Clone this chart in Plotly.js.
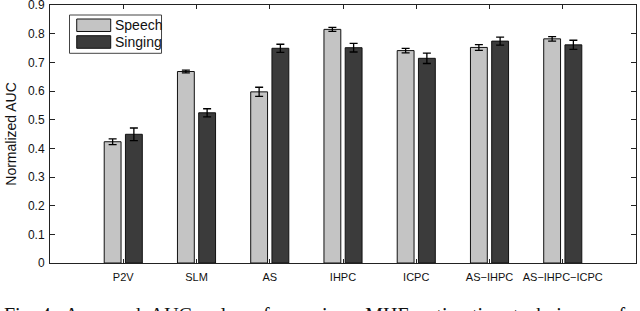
<!DOCTYPE html>
<html>
<head>
<meta charset="utf-8">
<script src="https://cdn.plot.ly/plotly-3.0.1.min.js"></script>
<style>
  html, body { margin: 0; padding: 0; background: #fff; }
  #chart { width: 640px; height: 311px; }
</style>
</head>
<body>
<div id="chart"></div>
<script>
const categories = ["P2V", "SLM", "AS", "IHPC", "ICPC", "AS\u2212IHPC", "AS\u2212IHPC\u2212ICPC"];
const seriesNames = ["Speech", "Singing"];
const speechValues = [0.423, 0.668, 0.597, 0.815, 0.741, 0.752, 0.782];
const speechErrors = [0.010, 0.005, 0.016, 0.007, 0.008, 0.010, 0.008];
const singingValues = [0.449, 0.524, 0.749, 0.751, 0.714, 0.774, 0.761];
const singingErrors = [0.022, 0.014, 0.014, 0.015, 0.018, 0.014, 0.016];
const yTickValues = [0, 0.1, 0.2, 0.3, 0.4, 0.5, 0.6, 0.7, 0.8, 0.9];
const yTickLabels = ["0", "0.1", "0.2", "0.3", "0.4", "0.5", "0.6", "0.7", "0.8", "0.9"];
const captionText = "Fig. 4.\u00a0 Averaged\u00a0 AUC\u00a0 values\u00a0 for\u00a0 various\u00a0 MHE\u00a0 estimation\u00a0 techniques\u00a0 of";

const speechColor = "#c4c4c4";
const singingColor = "#3b3b3b";
const xPos = categories.map((c, i) => i + 1);

const errStyle = { type: "data", visible: true, color: "#000", thickness: 1.3, width: 4 };

const traces = [
  {
    type: "bar", name: seriesNames[0], x: xPos, y: speechValues,
    width: 0.23, offset: -0.26,
    marker: { color: speechColor, line: { color: "#111", width: 1 } },
    error_y: Object.assign({ array: speechErrors }, errStyle),
    hoverinfo: "y"
  },
  {
    type: "bar", name: seriesNames[1], x: xPos, y: singingValues,
    width: 0.23, offset: 0.03,
    marker: { color: singingColor, line: { color: "#111", width: 1 } },
    error_y: Object.assign({ array: singingErrors }, errStyle),
    hoverinfo: "y"
  }
];

const axisFont = { family: "Liberation Sans, Arial, sans-serif", size: 11, color: "#111" };
const legendFont = { family: "Liberation Sans, Arial, sans-serif", size: 14, color: "#111" };

// Custom legend (wide swatches as in the reference)
const legendShapes = [
  { type: "rect", xref: "paper", yref: "paper", x0: 0.0333, x1: 0.1903, y0: 0.8128, y1: 0.9612,
    fillcolor: "#fff", line: { color: "#444", width: 1 }, layer: "above" },
  { type: "rect", xref: "paper", yref: "paper", x0: 0.0456, x1: 0.1036, y0: 0.8973, y1: 0.9457,
    fillcolor: speechColor, line: { color: "#111", width: 1 }, layer: "above" },
  { type: "rect", xref: "paper", yref: "paper", x0: 0.0456, x1: 0.1036, y0: 0.8322, y1: 0.8810,
    fillcolor: singingColor, line: { color: "#111", width: 1 }, layer: "above" }
];
const legendLabels = [
  { xref: "paper", yref: "paper", x: 0.1075, y: 0.9213, xanchor: "left", yanchor: "middle",
    showarrow: false, text: seriesNames[0], font: legendFont },
  { xref: "paper", yref: "paper", x: 0.1075, y: 0.8566, xanchor: "left", yanchor: "middle",
    showarrow: false, text: seriesNames[1], font: legendFont }
];

const layout = {
  width: 640, height: 311,
  margin: { l: 50, r: 4, t: 5, b: 48 },
  paper_bgcolor: "#fff", plot_bgcolor: "#fff",
  barmode: "overlay",
  showlegend: false,
  xaxis: {
    range: [0, 8],
    tickmode: "array", tickvals: xPos, ticktext: categories,
    ticks: "inside", ticklen: 4, tickcolor: "#222", tickwidth: 1,
    showline: true, linecolor: "#222", linewidth: 1, mirror: "ticks",
    showgrid: false, zeroline: false,
    tickfont: axisFont, ticklabelstandoff: 4
  },
  yaxis: {
    range: [0, 0.9],
    tickmode: "array", tickvals: yTickValues, ticktext: yTickLabels,
    ticks: "inside", ticklen: 5, tickcolor: "#222", tickwidth: 1,
    showline: true, linecolor: "#222", linewidth: 1, mirror: "ticks",
    showgrid: false, zeroline: false,
    ticklabeloverflow: "allow",
    tickfont: { family: "Liberation Sans, Arial, sans-serif", size: 12, color: "#111" },
    ticklabelstandoff: 2,
    title: { text: "Normalized AUC", font: { family: "Liberation Sans, Arial, sans-serif", size: 14, color: "#111" }, standoff: 8 }
  },
  shapes: legendShapes,
  annotations: legendLabels.concat([
    {
      xref: "paper", yref: "paper", x: -0.082, y: -0.151,
      xanchor: "left", yanchor: "top", showarrow: false,
      text: captionText,
      font: { family: "Liberation Serif, Times New Roman, serif", size: 20, color: "#111" }
    }
  ])
};

Plotly.newPlot("chart", traces, layout, { staticPlot: true, displayModeBar: false });
</script>
</body>
</html>
